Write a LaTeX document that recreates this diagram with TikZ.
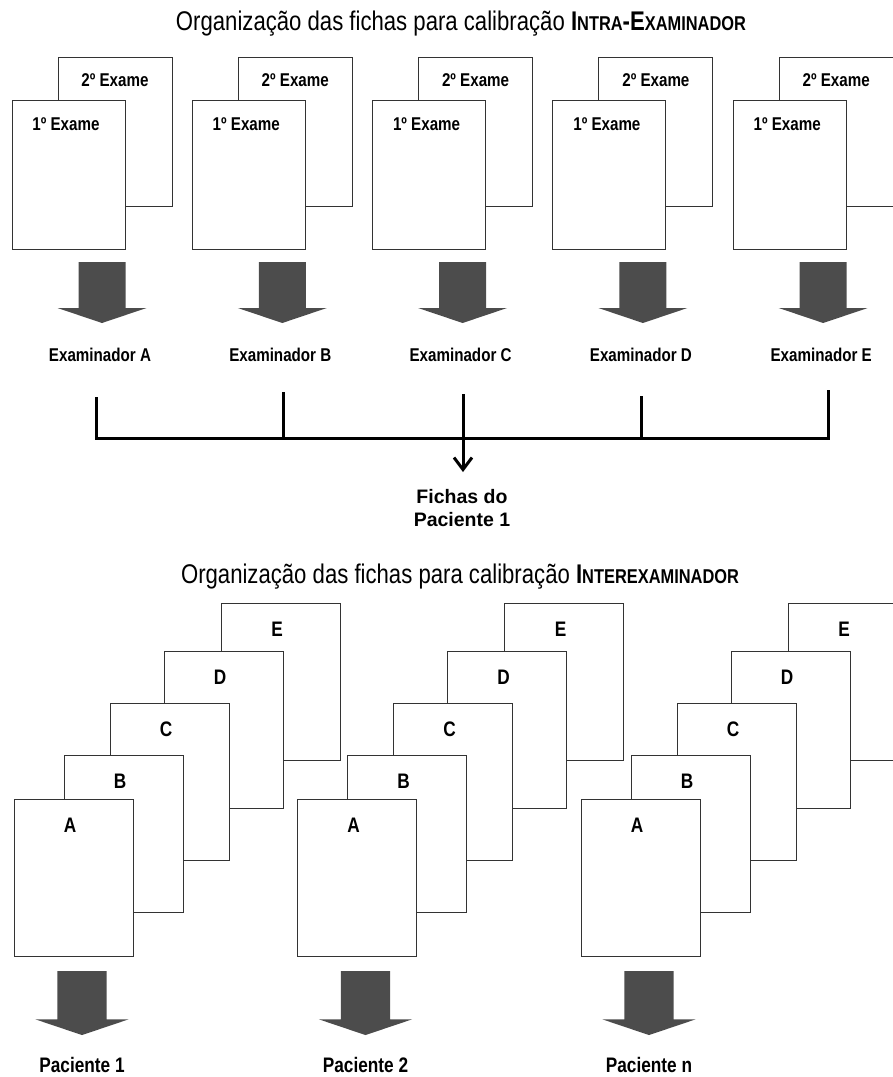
\documentclass[tikz,border=0pt]{standalone}
\usepackage{fontspec}
\setmainfont{Liberation Sans}[FakeStretch=0.82]
\newfontfamily\largafont{Liberation Sans}
\usetikzlibrary{arrows.meta,positioning}
\tikzset{
  ficha/.style={draw=black!80,line width=1pt,fill=white},
  rotulo/.style={font=\fontsize{18.5}{21}\selectfont\bfseries,inner sep=0pt},
  rotulogrande/.style={font=\fontsize{21}{24}\selectfont\bfseries,inner sep=0pt},
  titulo/.style={font=\fontsize{27}{30}\selectfont,inner sep=0pt},
  chave/.style={line width=3pt},
  setagrossa/.pic={
    \fill[black!70] (-23.5,0) -- (23.5,0) -- (23.5,46) -- (44.5,46)
      -- (0,61) -- (-44.5,46) -- (-23.5,46) -- cycle;
  }
}
\newcommand{\versalete}[1]{{\fontsize{20}{20}\selectfont #1}}

\begin{document}
\begin{tikzpicture}[x=1pt,y=-1pt]
  \useasboundingbox (0,0) rectangle (893,1077);
  \clip (0,0) rectangle (893,1077);
  % titulo superior
  \node[titulo] (tit-intra) at (461,24)
    {Organização das fichas para calibração \textbf{I\versalete{NTRA}-E\versalete{XAMINADOR}}};
  % fichas de cada examinador (1o e 2o exame)
  \foreach \e [count=\i from 0] in {A,B,C,D,E}{
    \begin{scope}[xshift=180.3*\i]
      \draw[ficha] (58,57) rectangle (172,206);
      \node[rotulo] (ex2-\e) at (115,80) {2º Exame};
      \draw[ficha] (12,100) rectangle (125,249);
      \node[rotulo] (ex1-\e) at (66,124) {1º Exame};
      \pic at (102,262) {setagrossa};
      \node[rotulo] (exam-\e) at (100,355) {Examinador \e};
    \end{scope}
  }
  % chave que junta os examinadores
  \foreach \e/\xc/\yc in {A/96/397,B/283/392,C/463/394,D/641/396,E/828/390}{
    \coordinate (ch-\e) at (\xc,\yc);
  }
  \coordinate (base) at (0,438);
  \coordinate (seta-fim) at (463,472);
  \draw[chave] (ch-A) |- (ch-E |- base) -- (ch-E);
  \draw[chave] (ch-B) -- (ch-B |- base);
  \draw[chave] (ch-D) -- (ch-D |- base);
  \draw[chave,-{Straight Barb[length=12pt,width=18pt]}] (ch-C) -- (seta-fim);
  \node[font=\largafont\fontsize{19.5}{23}\selectfont\bfseries,align=center,inner sep=0pt]
    (fichas) at (462,508) {Fichas do\\Paciente 1};
  % titulo inferior
  \node[titulo] (tit-inter) at (460,577)
    {Organização das fichas para calibração \textbf{I\versalete{NTEREXAMINADOR}}};
  % fichas de cada paciente (examinadores A a E)
  \foreach \p [count=\j from 0] in {1,2,n}{
    \begin{scope}[xshift=283.5*\j]
      \foreach \e/\xa/\ya in {E/221/603,D/164/651,C/110/703,B/64/755,A/14/799}{
        \draw[ficha] (\xa,\ya) rectangle ++(119,157);
        \node[rotulogrande] (p\j-\e) at (\xa+56,\ya+26) {\e};
      }
      \pic[scale=1.05] at (82,971) {setagrossa};
      \node[rotulogrande] (pac-\j) at (82,1065) {Paciente \p};
    \end{scope}
  }
\end{tikzpicture}
\end{document}
